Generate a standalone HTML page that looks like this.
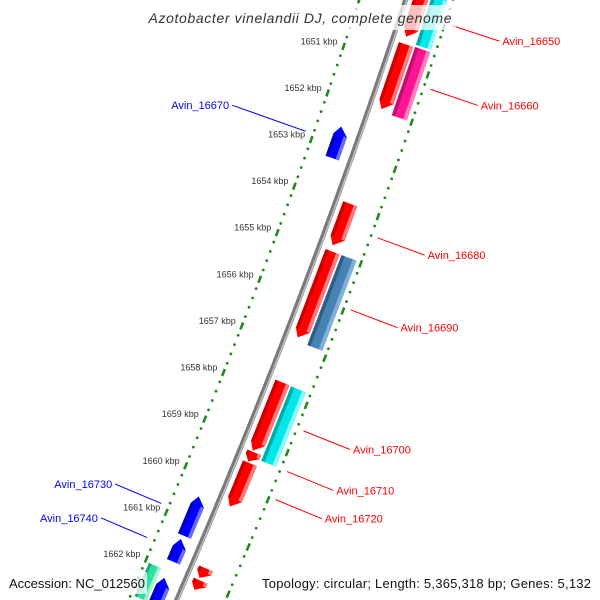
<!DOCTYPE html>
<html><head><meta charset="utf-8"><style>
html,body{margin:0;padding:0;background:#fff;width:600px;height:600px;overflow:hidden;}
svg{display:block;font-family:"Liberation Sans",sans-serif;overflow:hidden;}
</style></head><body>
<svg id="chart" width="600" height="600" viewBox="0 0 600 600" xmlns="http://www.w3.org/2000/svg">
<defs><clipPath id="frame"><rect x="0" y="0" width="600" height="600"/></clipPath></defs>
<g clip-path="url(#frame)">
<g id="tracks"></g>
<g id="genes"></g>
<g id="labels"></g>
</g>
<rect x="144" y="5" width="312" height="25" fill="#fff" opacity="0.75"/>
<text x="300" y="23" text-anchor="middle" font-style="italic" font-size="14" fill="#333" textLength="303">Azotobacter vinelandii DJ, complete genome</text>
<rect x="5" y="572" width="142" height="22" fill="#fff" opacity="0.75"/>
<rect x="258" y="572" width="338" height="22" fill="#fff" opacity="0.75"/>
<text x="9" y="588" font-size="13" fill="#111" textLength="136">Accession: NC_012560</text>
<text x="591" y="588" text-anchor="end" font-size="13" fill="#111" textLength="329">Topology: circular; Length: 5,365,318 bp; Genes: 5,132</text>
</svg>
<script>
// data (positions in kbp)
const geneStarts = [1649.4, 1650.56, 1653.95, 1654.97, 1657.75, 1659.24, 1659.47, 1661.71, 1661.97, 1649.3, 1650.55, 1654.97, 1657.76, 1652.55, 1660.46, 1661.37, 1662.2, 1662.05];
const geneEnds   = [1650.41, 1651.95, 1654.85, 1656.81, 1659.22, 1659.45, 1660.41, 1661.93, 1662.18, 1650.5, 1652.0, 1656.88, 1659.34, 1653.21, 1661.29, 1661.84, 1662.93, 1662.9];
const geneStrands= [1, 1, 1, 1, 1, 1, 1, 1, 1, -1, 0, 0, 0, -1, -1, -1, -1, 0];
const geneLanes  = [1, 1, 1, 1, 1, 1, 1, 1, 1, 2, 2, 2, 2, -1, -1, -1, -1, -2];
const geneColors = ["red","red","red","red","red","red","red","red","red","cyan","pink","steel","cyan","blue","blue","blue","blue","mint"];
const tickLabels = [1651,1652,1653,1654,1655,1656,1657,1658,1659,1660,1661,1662];
const labelNames = ["Avin_16650","Avin_16660","Avin_16670","Avin_16680","Avin_16690","Avin_16700","Avin_16710","Avin_16720","Avin_16730","Avin_16740"];
const labelGene  = [0, 1, 13, 2, 11, 4, 5, 6, 14, 15];

const palette = {
  red:["#ff0000","#c80000","#ff7a7a"], cyan:["#00e8e8","#00aaaa","#8ff8f8"],
  pink:["#ff1493","#c0106e","#ff80c0"], steel:["#4682b4","#2f5f88","#7fb0d8"],
  blue:["#0000ff","#0000b0","#6a6aff"], mint:["#30e0a0","#18a878","#a0f4d4"]
};
const NS="http://www.w3.org/2000/svg";
function X(t){return 405.5-0.329*t-0.0000875*t*t;}
function T(k){return 60.5+(k-1651)*46.9;}
function nrm(t){const s=-(0.329+0.000175*t);const L=Math.sqrt(1+s*s);return [1/L,-s/L];}
function P(t,d){const n=nrm(t);return [X(t)+d*n[0], t+d*n[1]];}
function pts(a){return a.map(p=>p[0].toFixed(1)+","+p[1].toFixed(1)).join(" ");}
function mk(tag,attrs,parent){const e=document.createElementNS(NS,tag);for(const k in attrs)e.setAttribute(k,attrs[k]);parent.appendChild(e);return e;}

const tracks=document.getElementById('tracks');
let bb=[];for(let t=-10;t<=605;t+=5)bb.push(P(t,0));
let e=mk('polyline',{points:pts(bb),fill:"none",stroke:"#7a7a7a","stroke-width":5},tracks);


let bb2=[];for(let t=-10;t<=605;t+=5)bb2.push(P(t,1.3));
e=mk('polyline',{points:pts(bb2),fill:"none",stroke:"#c0c0c0","stroke-width":1.5},tracks);



[-44,45].forEach(d=>{
  for(let i=0;i<=70;i++){
    const k=1649+i*0.2; const t=T(k);
    const p0=P(t,d); if(p0[1]<-5||p0[1]>605) continue;
    const isTick=Math.abs(k-Math.round(k))<0.01;
    if(isTick){
      const a=P(t-3.5,d),b=P(t+3.5,d);
      const l=mk('line',{x1:a[0],y1:a[1],x2:b[0],y2:b[1],stroke:"#1f8a1f","stroke-width":2.6},tracks);
      
      
    } else {
      const c=mk('circle',{cx:p0[0],cy:p0[1],r:1.4,fill:"#1f8a1f"},tracks);
      
      
    }
  }
});
tickLabels.forEach(k=>{
  const p=P(T(k),-44);
  const tx=mk('text',{x:p[0]-6,y:p[1]-2,"text-anchor":"end","font-size":"9",fill:"#333"},tracks);
  tx.textContent=k+" kbp";
  
  
});

const laneD={1:[7,22],2:[24,40],"-1":[-25,-11],"-2":[-40,-27]};
const genesG=document.getElementById('genes');
geneStarts.forEach((k0,i)=>{
  const t0=T(k0),t1=Math.min(T(geneEnds[i]),612);
  const [d0,d1]=laneD[geneLanes[i]];
  const w=d1-d0, h=Math.min(8,(t1-t0)*0.6), st=geneStrands[i];
  const col=palette[geneColors[i]];
  const dm=d0+0.35*w;
  let poly, a0=t0, a1=t1;
  if(st===1){poly=[P(t0,d0),P(t0,d1),P(t1-h,d1),P(t1,dm),P(t1-h,d0)];a1=t1-h;}
  else if(st===-1){poly=[P(t0,dm),P(t0+h,d1),P(t1,d1),P(t1,d0),P(t0+h,d0)];a0=t0+h;}
  else poly=[P(t0,d0),P(t0,d1),P(t1,d1),P(t1,d0)];
  const g=mk('g',{},genesG);
  
  
  mk('polygon',{points:pts(poly),fill:col[0]},g);
  mk('polygon',{points:pts([P(a0,d0),P(a0,d0+0.22*w),P(a1,d0+0.22*w),P(a1,d0)]),fill:col[1]},g);
  mk('polygon',{points:pts([P(a0,d1-0.25*w),P(a0,d1),P(a1,d1),P(a1,d1-0.25*w)]),fill:col[2]},g);
});

const labG=document.getElementById('labels');
labelNames.forEach((name,i)=>{
  const gi=labelGene[i];
  const t=(T(geneStarts[gi])+T(geneEnds[gi]))/2;
  const right=geneLanes[gi]>0;
  const col=right?"#ff0000":"#0000ff";
  const L=right?50:(i===2?78:50);
  const a=P(t,right?52:-52), b=P(t,right?52+L:-52-L);
  const ln=mk('line',{x1:a[0],y1:a[1],x2:b[0],y2:b[1],stroke:col,"stroke-width":1},labG);
  
  
  const tx=mk('text',{x:right?b[0]+3:b[0]-3,y:b[1]+4,"text-anchor":right?"start":"end","font-size":"11",fill:col},labG);
  tx.textContent=name;
  
  
});
</script>
</body></html>
